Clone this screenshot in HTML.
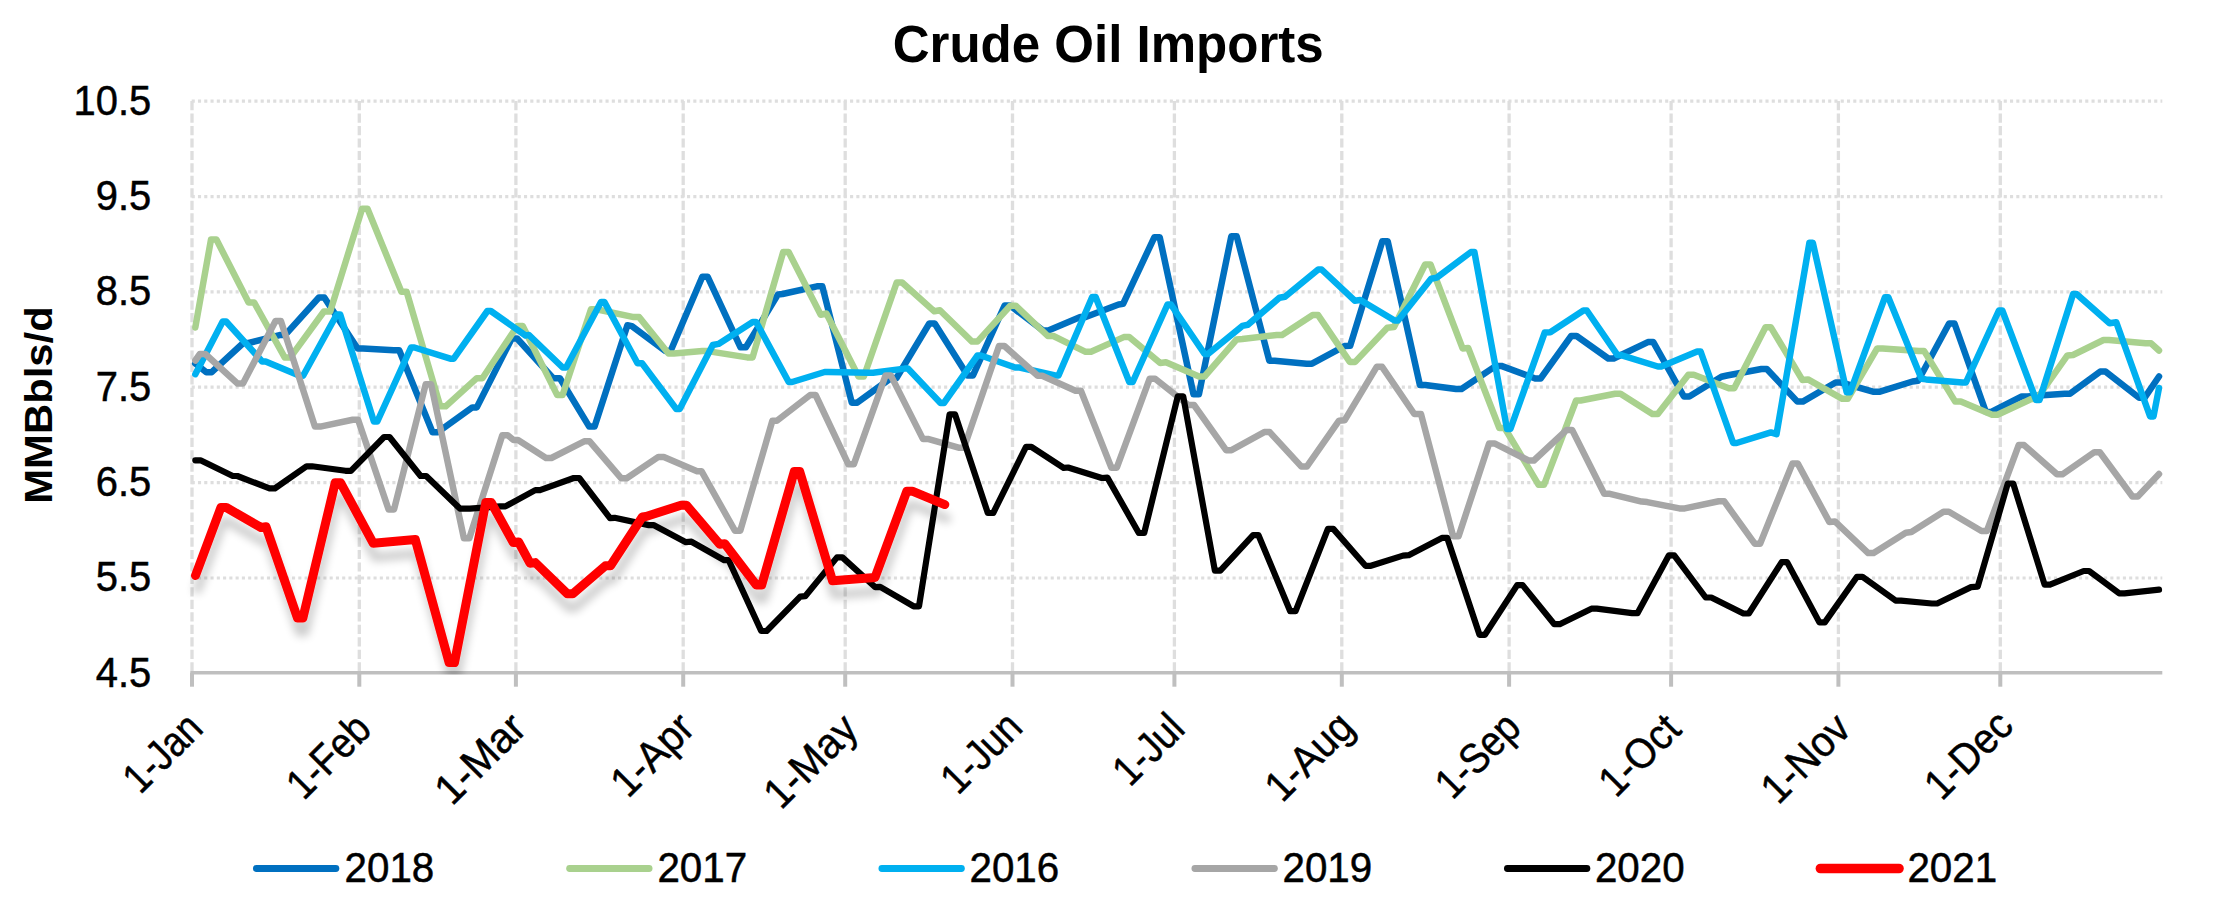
<!DOCTYPE html>
<html lang="en"><head><meta charset="utf-8"><title>Crude Oil Imports</title>
<style>html,body{margin:0;padding:0;background:#fff}svg{display:block}text{font-family:"Liberation Sans",Arial,sans-serif;fill:#000}.b{font-weight:bold}.r{stroke:#000;stroke-width:0.5px}.ln{fill:none;stroke-linejoin:round;stroke-linecap:round}</style></head><body>
<svg width="2224" height="900" viewBox="0 0 2224 900">
<defs><filter id="sh" x="-5%" y="-20%" width="110%" height="150%"><feGaussianBlur in="SourceAlpha" stdDeviation="4.2"/><feOffset dx="1.5" dy="14" result="b"/><feComponentTransfer><feFuncA type="linear" slope="0.2"/></feComponentTransfer><feMerge><feMergeNode/><feMergeNode in="SourceGraphic"/></feMerge></filter></defs>
<clipPath id="cp"><rect x="0" y="0" width="2224" height="674.5"/></clipPath>
<rect width="2224" height="900" fill="#fff"/>
<text class="b" x="1108.2" y="61.5" font-size="51" text-anchor="middle" textLength="431" lengthAdjust="spacingAndGlyphs">Crude Oil Imports</text>
<line x1="191.7" y1="101.2" x2="2162.3" y2="101.2" stroke="#dedede" stroke-width="3.2" stroke-dasharray="3.1 3.17"/>
<line x1="191.7" y1="196.6" x2="2162.3" y2="196.6" stroke="#dedede" stroke-width="3.2" stroke-dasharray="3.1 3.17"/>
<line x1="191.7" y1="291.9" x2="2162.3" y2="291.9" stroke="#dedede" stroke-width="3.2" stroke-dasharray="3.1 3.17"/>
<line x1="191.7" y1="387.2" x2="2162.3" y2="387.2" stroke="#dedede" stroke-width="3.2" stroke-dasharray="3.1 3.17"/>
<line x1="191.7" y1="482.6" x2="2162.3" y2="482.6" stroke="#dedede" stroke-width="3.2" stroke-dasharray="3.1 3.17"/>
<line x1="191.7" y1="578.0" x2="2162.3" y2="578.0" stroke="#dedede" stroke-width="3.2" stroke-dasharray="3.1 3.17"/>
<line x1="192.0" y1="101.0" x2="192.0" y2="673.3" stroke="#dedede" stroke-width="3.3" stroke-dasharray="9.2 3.27"/>
<line x1="359.3" y1="101.0" x2="359.3" y2="673.3" stroke="#dedede" stroke-width="3.3" stroke-dasharray="9.2 3.27"/>
<line x1="515.9" y1="101.0" x2="515.9" y2="673.3" stroke="#dedede" stroke-width="3.3" stroke-dasharray="9.2 3.27"/>
<line x1="683.2" y1="101.0" x2="683.2" y2="673.3" stroke="#dedede" stroke-width="3.3" stroke-dasharray="9.2 3.27"/>
<line x1="845.2" y1="101.0" x2="845.2" y2="673.3" stroke="#dedede" stroke-width="3.3" stroke-dasharray="9.2 3.27"/>
<line x1="1012.5" y1="101.0" x2="1012.5" y2="673.3" stroke="#dedede" stroke-width="3.3" stroke-dasharray="9.2 3.27"/>
<line x1="1174.4" y1="101.0" x2="1174.4" y2="673.3" stroke="#dedede" stroke-width="3.3" stroke-dasharray="9.2 3.27"/>
<line x1="1341.8" y1="101.0" x2="1341.8" y2="673.3" stroke="#dedede" stroke-width="3.3" stroke-dasharray="9.2 3.27"/>
<line x1="1509.1" y1="101.0" x2="1509.1" y2="673.3" stroke="#dedede" stroke-width="3.3" stroke-dasharray="9.2 3.27"/>
<line x1="1671.1" y1="101.0" x2="1671.1" y2="673.3" stroke="#dedede" stroke-width="3.3" stroke-dasharray="9.2 3.27"/>
<line x1="1838.4" y1="101.0" x2="1838.4" y2="673.3" stroke="#dedede" stroke-width="3.3" stroke-dasharray="9.2 3.27"/>
<line x1="2000.3" y1="101.0" x2="2000.3" y2="673.3" stroke="#dedede" stroke-width="3.3" stroke-dasharray="9.2 3.27"/>
<line x1="190.3" y1="672.7" x2="2162.3" y2="672.7" stroke="#bfbfbf" stroke-width="3.4"/>
<line x1="192.0" y1="672.7" x2="192.0" y2="686.7" stroke="#bfbfbf" stroke-width="4"/>
<line x1="359.3" y1="672.7" x2="359.3" y2="686.7" stroke="#bfbfbf" stroke-width="4"/>
<line x1="515.9" y1="672.7" x2="515.9" y2="686.7" stroke="#bfbfbf" stroke-width="4"/>
<line x1="683.2" y1="672.7" x2="683.2" y2="686.7" stroke="#bfbfbf" stroke-width="4"/>
<line x1="845.2" y1="672.7" x2="845.2" y2="686.7" stroke="#bfbfbf" stroke-width="4"/>
<line x1="1012.5" y1="672.7" x2="1012.5" y2="686.7" stroke="#bfbfbf" stroke-width="4"/>
<line x1="1174.4" y1="672.7" x2="1174.4" y2="686.7" stroke="#bfbfbf" stroke-width="4"/>
<line x1="1341.8" y1="672.7" x2="1341.8" y2="686.7" stroke="#bfbfbf" stroke-width="4"/>
<line x1="1509.1" y1="672.7" x2="1509.1" y2="686.7" stroke="#bfbfbf" stroke-width="4"/>
<line x1="1671.1" y1="672.7" x2="1671.1" y2="686.7" stroke="#bfbfbf" stroke-width="4"/>
<line x1="1838.4" y1="672.7" x2="1838.4" y2="686.7" stroke="#bfbfbf" stroke-width="4"/>
<line x1="2000.3" y1="672.7" x2="2000.3" y2="686.7" stroke="#bfbfbf" stroke-width="4"/>
<text class="r" x="151.3" y="114.5" font-size="42.5" text-anchor="end" textLength="77.7" lengthAdjust="spacingAndGlyphs">10.5</text>
<text class="r" x="151.3" y="209.9" font-size="42.5" text-anchor="end" textLength="55.5" lengthAdjust="spacingAndGlyphs">9.5</text>
<text class="r" x="151.3" y="305.2" font-size="42.5" text-anchor="end" textLength="55.5" lengthAdjust="spacingAndGlyphs">8.5</text>
<text class="r" x="151.3" y="400.5" font-size="42.5" text-anchor="end" textLength="55.5" lengthAdjust="spacingAndGlyphs">7.5</text>
<text class="r" x="151.3" y="495.9" font-size="42.5" text-anchor="end" textLength="55.5" lengthAdjust="spacingAndGlyphs">6.5</text>
<text class="r" x="151.3" y="591.2" font-size="42.5" text-anchor="end" textLength="55.5" lengthAdjust="spacingAndGlyphs">5.5</text>
<text class="r" x="151.3" y="686.6" font-size="42.5" text-anchor="end" textLength="55.5" lengthAdjust="spacingAndGlyphs">4.5</text>
<text class="b" font-size="38.5" text-anchor="middle" textLength="197.5" lengthAdjust="spacingAndGlyphs" transform="translate(52,405) rotate(-90)">MMBbls/d</text>
<text class="r" font-size="42.5" text-anchor="end" textLength="91.5" lengthAdjust="spacingAndGlyphs" transform="translate(205.0,730.5) rotate(-45)">1-Jan</text>
<text class="r" font-size="42.5" text-anchor="end" textLength="98.5" lengthAdjust="spacingAndGlyphs" transform="translate(373.3,731.5) rotate(-45)">1-Feb</text>
<text class="r" font-size="42.5" text-anchor="end" textLength="108.0" lengthAdjust="spacingAndGlyphs" transform="translate(528.4,730.5) rotate(-45)">1-Mar</text>
<text class="r" font-size="42.5" text-anchor="end" textLength="97.3" lengthAdjust="spacingAndGlyphs" transform="translate(696.7,730.5) rotate(-45)">1-Apr</text>
<text class="r" font-size="42.5" text-anchor="end" textLength="112.1" lengthAdjust="spacingAndGlyphs" transform="translate(860.2,731.5) rotate(-45)">1-May</text>
<text class="r" font-size="42.5" text-anchor="end" textLength="94.0" lengthAdjust="spacingAndGlyphs" transform="translate(1024.5,729.5) rotate(-45)">1-Jun</text>
<text class="r" font-size="42.5" text-anchor="end" textLength="80.3" lengthAdjust="spacingAndGlyphs" transform="translate(1186.9,731.0) rotate(-45)">1-Jul</text>
<text class="r" font-size="42.5" text-anchor="end" textLength="104.6" lengthAdjust="spacingAndGlyphs" transform="translate(1356.3,729.5) rotate(-45)">1-Aug</text>
<text class="r" font-size="42.5" text-anchor="end" textLength="100.0" lengthAdjust="spacingAndGlyphs" transform="translate(1523.1,730.0) rotate(-45)">1-Sep</text>
<text class="r" font-size="42.5" text-anchor="end" textLength="95.0" lengthAdjust="spacingAndGlyphs" transform="translate(1683.1,731.5) rotate(-45)">1-Oct</text>
<text class="r" font-size="42.5" text-anchor="end" textLength="105.6" lengthAdjust="spacingAndGlyphs" transform="translate(1852.9,731.0) rotate(-45)">1-Nov</text>
<text class="r" font-size="42.5" text-anchor="end" textLength="104.2" lengthAdjust="spacingAndGlyphs" transform="translate(2015.3,728.0) rotate(-45)">1-Dec</text>
<g clip-path="url(#cp)">
<path class="ln" d="M195.3 363.5 L206.3 372.2 L211.7 372.2 L243.3 343.0 L248.7 343.0 L279.6 335.1 L285.0 335.1 L318.9 297.5 L324.3 297.5 L357.6 348.6 L363.0 348.6 L393.8 350.2 L399.2 350.2 L432.5 432.2 L437.9 432.2 L472.3 407.4 L476.8 407.4 L511.7 338.5 L517.1 338.5 L553.2 378.2 L559.9 378.2 L589.2 426.6 L594.6 426.6 L627.4 325.2 L631.9 326.1 L665.2 351.0 L670.6 351.0 L702.3 276.8 L707.7 276.8 L740.5 347.3 L745.9 347.3 L778.0 294.4 L782.5 294.0 L816.9 286.3 L822.3 286.3 L851.8 402.7 L857.2 402.7 L891.1 378.0 L896.5 378.0 L929.3 323.5 L934.7 323.5 L967.6 375.4 L973.0 375.4 L1004.6 305.5 L1010.0 305.5 L1042.9 330.4 L1048.3 330.4 L1080.3 317.0 L1085.7 317.0 L1118.6 304.5 L1123.1 303.9 L1154.3 237.3 L1159.7 237.3 L1193.5 394.3 L1198.9 394.3 L1231.3 236.3 L1236.7 236.3 L1269.3 360.7 L1274.7 360.7 L1306.6 363.7 L1312.0 363.7 L1344.6 346.1 L1350.2 345.7 L1382.3 241.3 L1387.7 241.3 L1419.9 385.0 L1425.3 385.0 L1456.1 389.0 L1461.5 389.0 L1495.9 365.9 L1501.3 365.9 L1535.2 378.5 L1540.6 378.5 L1571.2 336.0 L1576.6 336.0 L1608.3 358.5 L1613.7 358.5 L1647.9 342.1 L1653.3 342.1 L1683.9 396.5 L1689.3 396.5 L1721.4 376.7 L1727.0 375.5 L1761.4 369.0 L1766.8 369.0 L1797.4 401.6 L1802.8 401.6 L1835.6 382.5 L1841.0 382.5 L1873.8 391.8 L1879.2 391.8 L1912.5 381.5 L1918.1 380.8 L1949.1 323.5 L1954.5 323.5 L1985.9 412.0 L1991.3 412.0 L2021.8 396.4 L2027.2 396.4 L2064.7 393.7 L2070.1 393.7 L2100.2 371.6 L2105.6 371.6 L2139.1 397.8 L2144.5 397.8 L2159.0 376.5" stroke="#0070c0" stroke-width="6.5"/>
<path class="ln" d="M195.3 327.5 L211.0 239.5 L216.4 239.5 L248.6 302.5 L254.2 302.5 L284.8 357.6 L290.2 357.6 L323.9 311.5 L330.2 311.5 L362.1 208.8 L367.5 208.8 L401.4 291.7 L406.6 291.7 L440.3 406.3 L445.7 406.3 L476.8 378.2 L482.4 378.2 L517.3 326.0 L522.7 326.0 L557.2 395.1 L562.6 395.1 L591.0 309.3 L596.4 309.3 L633.7 317.1 L639.1 317.1 L668.5 353.5 L673.9 353.5 L702.3 351.1 L707.7 351.1 L747.2 357.4 L752.6 357.4 L783.2 252.0 L788.6 252.0 L820.7 314.7 L826.4 313.5 L858.5 376.5 L863.9 376.5 L896.7 282.5 L902.1 282.5 L934.3 311.3 L939.9 310.2 L972.0 341.6 L977.4 341.6 L1010.3 305.7 L1015.7 305.7 L1047.8 336.0 L1053.4 336.0 L1085.6 351.8 L1091.0 351.8 L1123.8 337.1 L1129.2 337.1 L1160.2 363.0 L1165.9 362.3 L1199.1 376.5 L1204.5 376.5 L1236.7 339.4 L1242.3 338.9 L1276.7 334.9 L1282.1 334.9 L1312.7 315.1 L1318.1 315.1 L1349.8 361.9 L1355.2 361.9 L1387.3 327.7 L1394.0 327.0 L1425.1 264.5 L1430.5 264.5 L1462.6 348.4 L1468.2 347.9 L1499.3 428.0 L1504.7 428.0 L1538.6 484.8 L1544.0 484.8 L1576.1 400.5 L1580.6 400.5 L1615.1 393.7 L1620.5 393.7 L1652.4 414.0 L1657.8 414.0 L1688.4 374.8 L1693.8 374.8 L1728.8 388.2 L1734.2 388.2 L1765.5 327.3 L1770.9 327.3 L1802.3 379.9 L1808.0 379.4 L1842.3 398.8 L1847.7 398.8 L1877.2 348.4 L1882.6 348.4 L1918.8 351.1 L1924.2 351.1 L1955.2 401.6 L1960.8 401.6 L1992.1 414.8 L1997.5 414.8 L2031.3 399.0 L2036.7 399.0 L2067.4 355.4 L2073.0 355.0 L2103.5 340.0 L2108.9 340.0 L2145.7 343.3 L2151.1 343.3 L2159.0 350.5" stroke="#a9d18e" stroke-width="6.5"/>
<path class="ln" d="M195.3 374.2 L222.7 321.5 L226.1 321.5 L262.2 361.5 L265.6 361.5 L299.7 375.8 L303.1 375.8 L336.8 314.5 L340.2 314.5 L373.9 421.5 L377.3 421.5 L411.0 347.5 L414.4 347.5 L450.3 358.7 L453.7 358.7 L487.4 311.0 L490.8 311.0 L525.5 335.5 L529.0 335.1 L562.7 367.5 L566.1 367.5 L601.0 302.0 L604.4 302.0 L637.5 363.2 L642.0 363.2 L676.3 409.0 L679.7 409.0 L712.8 345.0 L718.5 343.9 L752.7 322.0 L756.1 322.0 L788.7 382.0 L792.1 382.0 L824.7 372.0 L828.1 372.0 L869.6 372.7 L873.0 372.7 L904.5 368.6 L907.9 368.6 L940.5 403.0 L943.9 403.0 L977.5 355.5 L980.9 355.5 L1015.2 367.5 L1019.7 367.5 L1055.1 375.5 L1058.5 375.5 L1092.2 297.0 L1095.6 297.0 L1129.3 382.0 L1132.7 382.0 L1167.5 304.5 L1170.9 304.5 L1204.6 354.0 L1208.0 354.0 L1242.3 325.9 L1247.9 324.8 L1279.4 297.8 L1285.0 296.7 L1318.2 269.5 L1321.6 269.5 L1354.7 300.7 L1360.3 300.0 L1394.6 320.5 L1398.0 320.5 L1431.1 278.7 L1436.8 277.6 L1471.0 252.0 L1474.4 252.0 L1507.0 429.0 L1510.4 429.0 L1544.7 332.6 L1550.3 332.2 L1583.4 310.5 L1586.8 310.5 L1617.5 355.1 L1621.0 355.1 L1657.9 366.5 L1661.3 366.5 L1697.2 351.5 L1700.6 351.5 L1733.2 443.0 L1736.6 443.0 L1770.9 432.4 L1776.5 434.2 L1809.4 242.8 L1812.8 242.8 L1846.7 392.3 L1850.1 392.3 L1884.9 297.3 L1888.3 297.3 L1921.5 378.8 L1926.0 379.4 L1962.5 382.5 L1965.9 382.5 L1998.9 310.5 L2002.3 310.5 L2036.1 400.0 L2039.5 400.0 L2073.1 294.0 L2076.5 294.0 L2109.6 323.3 L2116.2 322.2 L2150.1 416.5 L2153.5 416.5 L2159.0 388.0" stroke="#00b0f0" stroke-width="6.5"/>
<path class="ln" d="M195.3 360.5 L199.9 354.0 L205.3 354.0 L237.6 383.6 L243.0 383.6 L275.5 321.0 L280.9 321.0 L314.9 426.6 L320.3 426.6 L352.7 419.8 L358.1 419.8 L388.6 509.5 L394.0 509.5 L425.7 384.2 L431.1 384.2 L463.9 538.3 L469.3 538.3 L502.3 435.3 L507.7 435.3 L513.5 440.0 L518.0 440.0 L546.0 458.0 L551.4 458.0 L584.2 441.3 L589.6 441.3 L621.3 478.3 L626.7 478.3 L658.4 456.9 L663.8 456.9 L697.1 471.3 L701.6 471.3 L734.9 530.7 L740.3 530.7 L772.4 420.7 L776.9 420.7 L810.2 395.0 L815.6 395.0 L848.4 464.3 L853.8 464.3 L885.5 375.6 L890.9 375.6 L923.0 439.1 L928.7 439.1 L958.6 447.7 L964.0 447.7 L999.0 346.0 L1004.4 346.0 L1037.7 375.7 L1042.2 375.7 L1075.5 390.8 L1080.9 390.8 L1111.4 467.7 L1116.8 467.7 L1149.7 378.7 L1155.1 378.7 L1188.3 405.0 L1194.0 405.0 L1226.1 450.2 L1231.5 450.2 L1264.3 432.1 L1269.7 432.1 L1301.4 466.6 L1306.8 466.6 L1339.0 420.7 L1344.6 420.3 L1376.7 366.8 L1382.1 366.8 L1414.3 414.0 L1421.0 414.0 L1453.2 536.3 L1458.6 536.3 L1489.1 443.4 L1494.5 443.4 L1528.5 460.5 L1533.9 460.5 L1566.7 429.9 L1572.1 429.9 L1604.2 493.8 L1609.9 493.8 L1641.6 501.6 L1647.2 502.1 L1679.4 508.4 L1684.8 508.4 L1718.7 501.2 L1724.1 501.2 L1754.7 543.7 L1760.1 543.7 L1792.4 463.6 L1797.8 463.6 L1829.3 521.9 L1834.9 521.4 L1868.2 553.1 L1873.6 553.1 L1905.8 532.7 L1911.4 532.0 L1943.5 511.8 L1948.9 511.8 L1981.5 531.0 L1986.9 531.0 L2018.7 445.1 L2024.1 445.1 L2057.0 474.3 L2062.4 474.3 L2094.4 452.2 L2099.8 452.2 L2132.4 496.5 L2137.8 496.5 L2159.0 474.0" stroke="#a6a6a6" stroke-width="6.5"/>
<path class="ln" d="M195.3 460.3 L200.5 460.3 L232.8 476.0 L237.3 476.0 L269.5 488.4 L274.9 488.4 L306.6 466.3 L312.0 466.3 L345.5 470.8 L350.9 470.8 L384.1 437.0 L389.5 437.0 L420.6 476.0 L426.2 476.0 L459.9 508.6 L470.0 508.6 L500.0 506.4 L505.4 506.4 L535.3 490.1 L540.0 490.1 L573.8 478.0 L579.2 478.0 L610.0 518.1 L614.6 517.8 L648.8 525.1 L653.5 525.1 L685.9 542.2 L691.5 541.7 L724.3 560.2 L728.7 560.2 L761.2 631.0 L766.6 631.0 L800.2 596.6 L805.2 596.2 L837.0 557.4 L842.4 557.4 L875.3 587.2 L880.2 586.9 L913.6 606.3 L919.0 606.3 L949.6 414.3 L955.0 414.3 L987.8 513.0 L993.2 513.0 L1026.0 446.8 L1031.4 446.8 L1063.6 467.9 L1068.1 467.5 L1101.8 478.0 L1107.4 477.6 L1138.8 533.0 L1144.2 533.0 L1177.8 396.3 L1183.2 396.3 L1214.9 570.7 L1220.3 570.7 L1253.1 535.2 L1258.5 535.2 L1290.2 611.2 L1295.6 611.2 L1327.9 528.9 L1333.3 528.9 L1365.5 565.8 L1370.9 565.8 L1403.0 555.6 L1408.7 555.2 L1441.9 537.9 L1447.3 537.9 L1479.5 634.8 L1484.9 634.8 L1517.2 585.1 L1522.6 585.1 L1554.3 624.2 L1559.7 624.2 L1591.4 608.7 L1596.8 608.7 L1632.1 613.2 L1637.5 613.2 L1668.8 555.4 L1674.2 555.4 L1705.7 597.5 L1711.3 597.5 L1743.4 613.5 L1748.8 613.5 L1781.7 562.1 L1787.1 562.1 L1819.4 622.4 L1824.8 622.4 L1857.0 576.8 L1862.4 576.8 L1895.6 600.6 L1901.0 600.6 L1931.8 603.5 L1937.2 603.5 L1971.0 587.1 L1977.7 586.7 L2007.8 483.5 L2013.2 483.5 L2044.6 584.6 L2050.0 584.6 L2083.7 571.0 L2089.1 571.0 L2119.1 593.3 L2124.5 593.3 L2159.0 589.7" stroke="#000000" stroke-width="6.2"/>
<path class="ln" d="M195.5 575.5 L220.9 507.5 L226.3 507.5 L261.0 527.5 L266.0 526.8 L297.5 618.0 L302.9 618.0 L335.2 482.8 L340.6 482.8 L373.3 543.3 L415.3 539.5 L449.1 662.6 L454.5 662.6 L485.8 502.5 L491.2 502.5 L513.3 542.6 L518.6 542.0 L530.0 563.2 L535.3 562.6 L567.3 593.8 L572.7 593.8 L605.3 565.8 L610.5 565.8 L642.3 517.0 L646.0 516.5 L681.0 505.2 L686.4 505.2 L719.6 544.2 L724.8 543.8 L756.3 585.0 L761.7 585.0 L794.3 471.5 L799.7 471.5 L832.5 580.8 L875.0 577.5 L906.8 491.2 L912.2 491.2 L944.8 504.6" stroke="#ff0000" stroke-width="9.0" filter="url(#sh)"/>
</g>
<line x1="256.4" y1="868.5" x2="335.9" y2="868.5" stroke="#0070c0" stroke-width="6.8" stroke-linecap="round"/>
<text class="r" x="344.6" y="881.7" font-size="42.5" textLength="89.7" lengthAdjust="spacingAndGlyphs">2018</text>
<line x1="569.6" y1="868.5" x2="649.1" y2="868.5" stroke="#a9d18e" stroke-width="6.8" stroke-linecap="round"/>
<text class="r" x="657.4" y="881.7" font-size="42.5" textLength="89.7" lengthAdjust="spacingAndGlyphs">2017</text>
<line x1="881.9" y1="868.5" x2="961.4" y2="868.5" stroke="#00b0f0" stroke-width="6.8" stroke-linecap="round"/>
<text class="r" x="969.5" y="881.7" font-size="42.5" textLength="89.7" lengthAdjust="spacingAndGlyphs">2016</text>
<line x1="1194.9" y1="868.5" x2="1274.4" y2="868.5" stroke="#a6a6a6" stroke-width="6.8" stroke-linecap="round"/>
<text class="r" x="1282.5" y="881.7" font-size="42.5" textLength="89.7" lengthAdjust="spacingAndGlyphs">2019</text>
<line x1="1507.4" y1="868.5" x2="1586.9" y2="868.5" stroke="#000000" stroke-width="6.8" stroke-linecap="round"/>
<text class="r" x="1594.9" y="881.7" font-size="42.5" textLength="89.7" lengthAdjust="spacingAndGlyphs">2020</text>
<line x1="1820.4" y1="868.5" x2="1899.0" y2="868.5" stroke="#ff0000" stroke-width="9.6" stroke-linecap="round"/>
<text class="r" x="1907.4" y="881.7" font-size="42.5" textLength="89.7" lengthAdjust="spacingAndGlyphs">2021</text>
</svg></body></html>
